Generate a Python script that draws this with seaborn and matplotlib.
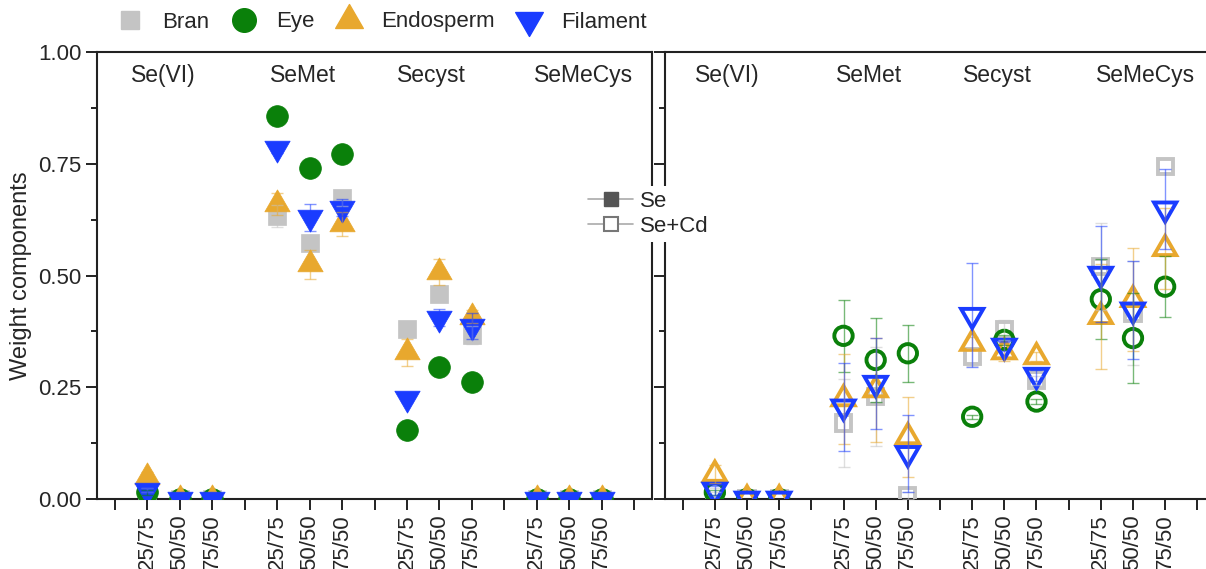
import numpy as np
import pandas as pd
import matplotlib
matplotlib.use("Agg")
import matplotlib.pyplot as plt
import matplotlib.transforms as mtransforms
from matplotlib.path import Path
import seaborn as sns
from matplotlib.lines import Line2D
from matplotlib.ticker import MultipleLocator, FormatStrFormatter

# ---------------- data ----------------
compounds = ["Se(VI)", "SeMet", "Secyst", "SeMeCys"]
ratios = ["25/75", "50/50", "75/50"]
tissues = ["Bran", "Eye", "Endosperm", "Filament"]
treatments = ["Se", "Se+Cd"]

# values ordered compound-major: Se(VI) x3, SeMet x3, Secyst x3, SeMeCys x3
se_bran = [0.020, 0.0, 0.0, 0.633, 0.573, 0.673, 0.380, 0.458, 0.367, 0.0, 0.0, 0.0]
se_eye = [0.015, 0.0, 0.0, 0.857, 0.741, 0.772, 0.154, 0.295, 0.262, 0.0, 0.0, 0.0]
se_endo = [0.050, 0.0, 0.0, 0.660, 0.525, 0.615, 0.328, 0.508, 0.408, 0.0, 0.0, 0.0]
se_fil = [0.020, 0.0, 0.0, 0.785, 0.630, 0.652, 0.226, 0.406, 0.387, 0.0, 0.0, 0.0]

se_bran_err = [0.005, 0, 0, 0.025, 0.010, 0.017, 0.010, 0.010, 0.020, 0, 0, 0]
se_eye_err = [0.005, 0, 0, 0.008, 0.010, 0.010, 0.008, 0.010, 0.010, 0, 0, 0]
se_endo_err = [0.010, 0, 0, 0.025, 0.033, 0.027, 0.030, 0.030, 0.015, 0, 0, 0]
se_fil_err = [0.005, 0, 0, 0.010, 0.030, 0.020, 0.010, 0.020, 0.030, 0, 0, 0]

cd_bran = [0.020, 0.0, 0.0, 0.170, 0.229, 0.008, 0.318, 0.378, 0.266, 0.520, 0.416, 0.743]
cd_eye = [0.015, 0.0, 0.0, 0.365, 0.311, 0.326, 0.184, 0.356, 0.218, 0.447, 0.360, 0.475]
cd_endo = [0.055, 0.0, 0.0, 0.224, 0.244, 0.139, 0.348, 0.329, 0.318, 0.408, 0.446, 0.560]
cd_fil = [0.020, 0.0, 0.0, 0.206, 0.259, 0.102, 0.411, 0.342, 0.277, 0.503, 0.423, 0.649]

cd_bran_err = [0.005, 0, 0, 0.098, 0.110, 0.008, 0.020, 0.022, 0.010, 0.098, 0.116, 0.0]
cd_eye_err = [0.005, 0, 0, 0.080, 0.094, 0.064, 0.005, 0.012, 0.005, 0.090, 0.100, 0.068]
cd_endo_err = [0.020, 0, 0, 0.100, 0.117, 0.090, 0.015, 0.020, 0.010, 0.118, 0.116, 0.090]
cd_fil_err = [0.010, 0, 0, 0.098, 0.102, 0.086, 0.116, 0.010, 0.012, 0.107, 0.109, 0.089]

# ---------------- build table ----------------
series = {
    ("Se", "Bran"): (se_bran, se_bran_err),
    ("Se", "Eye"): (se_eye, se_eye_err),
    ("Se", "Endosperm"): (se_endo, se_endo_err),
    ("Se", "Filament"): (se_fil, se_fil_err),
    ("Se+Cd", "Bran"): (cd_bran, cd_bran_err),
    ("Se+Cd", "Eye"): (cd_eye, cd_eye_err),
    ("Se+Cd", "Endosperm"): (cd_endo, cd_endo_err),
    ("Se+Cd", "Filament"): (cd_fil, cd_fil_err),
}
rows = []
for (trt, tis), (vals, errs) in series.items():
    k = 0
    for ci, comp in enumerate(compounds):
        for ri, rat in enumerate(ratios):
            rows.append(dict(treatment=trt, tissue=tis, compound=comp, ratio=rat,
                             pos=4 * ci + 1 + ri, value=vals[k], err=errs[k]))
            k += 1
df = pd.DataFrame(rows)

# ---------------- style ----------------
sns.set_theme(style="ticks")
plt.rcParams["font.family"] = ["Liberation Sans", "DejaVu Sans"]
plt.rcParams["axes.linewidth"] = 1.5
plt.rcParams["axes.edgecolor"] = "#222222"

# centroid-centred closed triangles (as drawn by the original software)
tri_up = Path([(0, 2 / 3), (-0.577, -1 / 3), (0.577, -1 / 3), (0, 2 / 3)], closed=True)
tri_dn = Path([(0, -2 / 3), (-0.577, 1 / 3), (0.577, 1 / 3), (0, -2 / 3)], closed=True)

colors = {"Bran": "#c4c4c4", "Eye": "#0a800a", "Endosperm": "#e8a82e", "Filament": "#1a3cff"}
markers = {"Bran": "s", "Eye": "o", "Endosperm": tri_up, "Filament": tri_dn}
sizes_f = {"Bran": 175, "Eye": 245, "Endosperm": 445, "Filament": 445}
sizes_o = {"Bran": 120, "Eye": 175, "Endosperm": 340, "Filament": 340}

W, H = 1206, 569
fig = plt.figure(figsize=(W / 100, H / 100), dpi=100)
axL = fig.add_axes([97 / W, 70 / H, 555 / W, 447 / H])
axR = fig.add_axes([665 / W, 70 / H, 550 / W, 447 / H])

FS = 16
for ax, trt in [(axL, "Se"), (axR, "Se+Cd")]:
    for zi, tis in enumerate(tissues):
        sub = df[(df.treatment == trt) & (df.tissue == tis)]
        c = colors[tis]
        if trt == "Se":
            sns.scatterplot(data=sub, x="pos", y="value", ax=ax, marker=markers[tis],
                            s=sizes_f[tis], color=c, edgecolor=c, linewidth=0.5,
                            zorder=3 + zi, legend=False)
        else:
            pts = sns.scatterplot(data=sub, x="pos", y="value", ax=ax, marker=markers[tis],
                                  s=sizes_o[tis], color=c, facecolor="none", edgecolor=c,
                                  linewidth=2.8, zorder=3 + zi, legend=False)
        e = sub[sub.err > 0]
        ax.errorbar(e.pos, e.value, yerr=e.err, fmt="none", ecolor=c, alpha=0.55,
                    elinewidth=1.0, capsize=4, capthick=1.0, zorder=8)

    for coll in ax.collections:
        try:
            coll.set_joinstyle("miter")
        except Exception:
            pass

    ax.set_xlim(-0.55, 16.55)
    ax.set_ylim(0, 1)
    ax.yaxis.set_major_locator(MultipleLocator(0.25))
    ax.yaxis.set_minor_locator(MultipleLocator(0.125))
    ax.yaxis.set_major_formatter(FormatStrFormatter("%.2f"))
    ticks = list(range(17))
    labels = ["" if t % 4 == 0 else ratios[(t % 4) - 1] for t in ticks]
    ax.set_xticks(ticks)
    ax.set_xticklabels(labels, rotation=90, fontsize=FS)
    ax.tick_params(axis="both", which="major", direction="out", length=8, width=1.4,
                   color="#222222", labelsize=FS, pad=3)
    ax.tick_params(axis="y", which="minor", direction="out", length=4.5, width=1.4,
                   color="#222222")
    ax.set_xlabel("")
    ax.set_ylabel("")
    for s in ["top", "right", "left", "bottom"]:
        ax.spines[s].set_visible(True)
    trans = mtransforms.blended_transform_factory(ax.transData, ax.transAxes)
    gx = [1.5, 5.8, 9.75, 14.45] if trt == "Se" else [1.4, 5.8, 9.8, 14.4]
    for name, x in zip(compounds, gx):
        ax.text(x, 0.948, name, transform=trans, ha="center", va="center", fontsize=16.5)

axR.tick_params(axis="y", labelleft=False)
axL.set_ylabel("Weight components", fontsize=17)
axL.yaxis.set_label_coords(-0.117, 0.5)

# top legend (tissues)
th = [Line2D([0], [0], linestyle="", marker=("s" if t == "Bran" else markers[t]),
             markersize=(13 if t == "Bran" else 17 if t == "Eye" else 23),
             markerfacecolor=colors[t], markeredgecolor=colors[t]) for t in tissues]
fig.legend(th, tissues, loc="center left", bbox_to_anchor=(110 / W, 1 - 22 / H), ncol=4,
           frameon=False, fontsize=FS, columnspacing=1.05, handletextpad=0.95,
           handlelength=1.0, borderaxespad=0)

# treatment legend
trh = [Line2D([0], [0], color="#aaaaaa", lw=1.2, marker="s", markersize=10,
              markerfacecolor="#555555", markeredgecolor="#555555"),
       Line2D([0], [0], color="#aaaaaa", lw=1.2, marker="s", markersize=10,
              markerfacecolor="white", markeredgecolor="#777777", markeredgewidth=1.5)]
fig.legend(trh, treatments, loc="center left", bbox_to_anchor=(584 / W, 1 - 214 / H),
           frameon=True, framealpha=1, facecolor="white", edgecolor="none", fontsize=FS,
           handlelength=2.0, borderpad=0.2, handletextpad=0.3, labelspacing=0.2,
           borderaxespad=0)

fig.savefig("out.png", dpi=100)
